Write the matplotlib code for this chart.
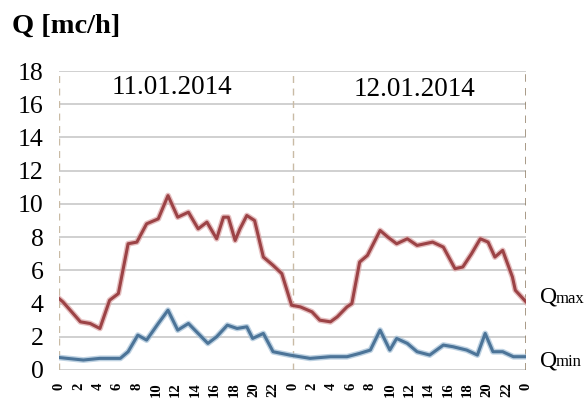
import matplotlib
matplotlib.use('Agg')
import matplotlib.pyplot as plt

plt.rcParams['font.family'] = ['Liberation Serif', 'DejaVu Serif']

# hours since 11.01.2014 00:00
hours_max = [0.0, 0.4, 2.2, 3.2, 4.2, 5.2, 6.1, 7.1, 8.0, 9.0, 10.2, 11.2, 12.2, 13.3,
             14.3, 15.2, 16.2, 16.9, 17.4, 18.1, 18.6, 19.3, 20.1, 21.0, 22.0, 22.9,
             23.9, 24.8, 26.0, 26.8, 27.9, 28.6, 29.6, 30.1, 30.9, 31.7, 33.0, 33.8,
             34.7, 35.8, 36.8, 38.4, 39.5, 40.7, 41.5, 42.4, 43.3, 44.1, 44.8, 45.6,
             46.6, 46.9, 48.0]
q_max = [4.3, 4.1, 2.9, 2.8, 2.5, 4.2, 4.6, 7.6, 7.7, 8.8, 9.1, 10.5, 9.2, 9.5,
         8.5, 8.9, 7.9, 9.2, 9.2, 7.8, 8.5, 9.3, 9.0, 6.8, 6.3, 5.8,
         3.9, 3.8, 3.5, 3.0, 2.9, 3.2, 3.8, 4.0, 6.5, 6.9, 8.4, 8.0,
         7.6, 7.9, 7.5, 7.7, 7.4, 6.1, 6.2, 7.0, 7.9, 7.7, 6.8, 7.2,
         5.6, 4.8, 4.1]

hours_min = [0.0, 2.5, 4.2, 6.3, 7.1, 8.1, 9.0, 10.2, 11.2, 12.2, 13.3, 14.3, 15.3,
             16.2, 17.3, 18.3, 19.3, 19.9, 21.0, 22.0, 23.7, 25.8, 27.9, 29.6, 30.9,
             32.0, 33.0, 34.0, 34.7, 35.8, 36.8, 38.1, 39.5, 40.5, 41.9, 43.0, 43.8,
             44.6, 45.6, 46.7, 48.0]
q_min = [0.75, 0.6, 0.7, 0.7, 1.1, 2.1, 1.8, 2.8, 3.6, 2.4, 2.8, 2.2, 1.6,
         2.0, 2.7, 2.5, 2.6, 1.9, 2.2, 1.1, 0.9, 0.7, 0.8, 0.8, 1.0,
         1.2, 2.4, 1.2, 1.9, 1.6, 1.1, 0.9, 1.5, 1.4, 1.2, 0.9, 2.2,
         1.1, 1.1, 0.8, 0.8]

tick_hours = list(range(0, 49, 2))
tick_labels = [str(h % 24) for h in tick_hours]
days = ['11.01.2014', '12.01.2014']

fig = plt.figure(figsize=(5.85, 4.03), dpi=100)
ax = fig.add_axes([0.1009, 0.0819, 0.7983, 0.7419])

for y in range(0, 19, 2):
    ax.axhline(y, color='#c4c4c4', lw=1.1, zorder=1)

ax.axvline(0, color='#c9bba5', lw=1.0, ls=(0, (5, 4)), zorder=1)
ax.axvline(24, color='#c9bba5', lw=1.0, ls=(0, (5, 4)), zorder=1)
ax.axvline(48, color='#8f7c62', lw=1.8, ls=(0, (3, 2.5)), zorder=1)

ax.plot(hours_max, q_max, color='#dba5a6', lw=4.2, alpha=0.7, zorder=2)
ax.plot(hours_max, q_max, color='#9c4346', lw=2.2, zorder=3)
ax.plot(hours_min, q_min, color='#a3bfd6', lw=4.2, alpha=0.7, zorder=2)
ax.plot(hours_min, q_min, color='#4c7498', lw=2.2, zorder=3)

ax.set_xlim(0, 48)
ax.set_ylim(0, 18)
ax.set_yticks(range(0, 19, 2))
ax.set_xticks(tick_hours)
ax.set_xticklabels(tick_labels, rotation=90, fontsize=10.5, fontweight='bold')
ax.tick_params(axis='y', length=0, pad=11, labelsize=18.5)
ax.tick_params(axis='x', length=0, pad=9)
for s in ax.spines.values():
    s.set_visible(False)

ax.text(11.6, 17.0, days[0], ha='center', va='center', fontsize=19.5)
ax.text(36.5, 16.9, days[1], ha='center', va='center', fontsize=19.5)

fig.text(12 / 585, 1 - 33 / 403, 'Q [mc/h]', fontsize=20.5, fontweight='bold',
         ha='left', va='baseline')

fig.text(540 / 585, 1 - 303 / 403, 'Q', fontsize=17, ha='left', va='baseline')
fig.text(556 / 585, 1 - 303 / 403, 'max', fontsize=12, ha='left', va='baseline')
fig.text(540 / 585, 1 - 366 / 403, 'Q', fontsize=17, ha='left', va='baseline')
fig.text(556 / 585, 1 - 366 / 403, 'min', fontsize=12, ha='left', va='baseline')

fig.savefig('out.png', dpi=100)
